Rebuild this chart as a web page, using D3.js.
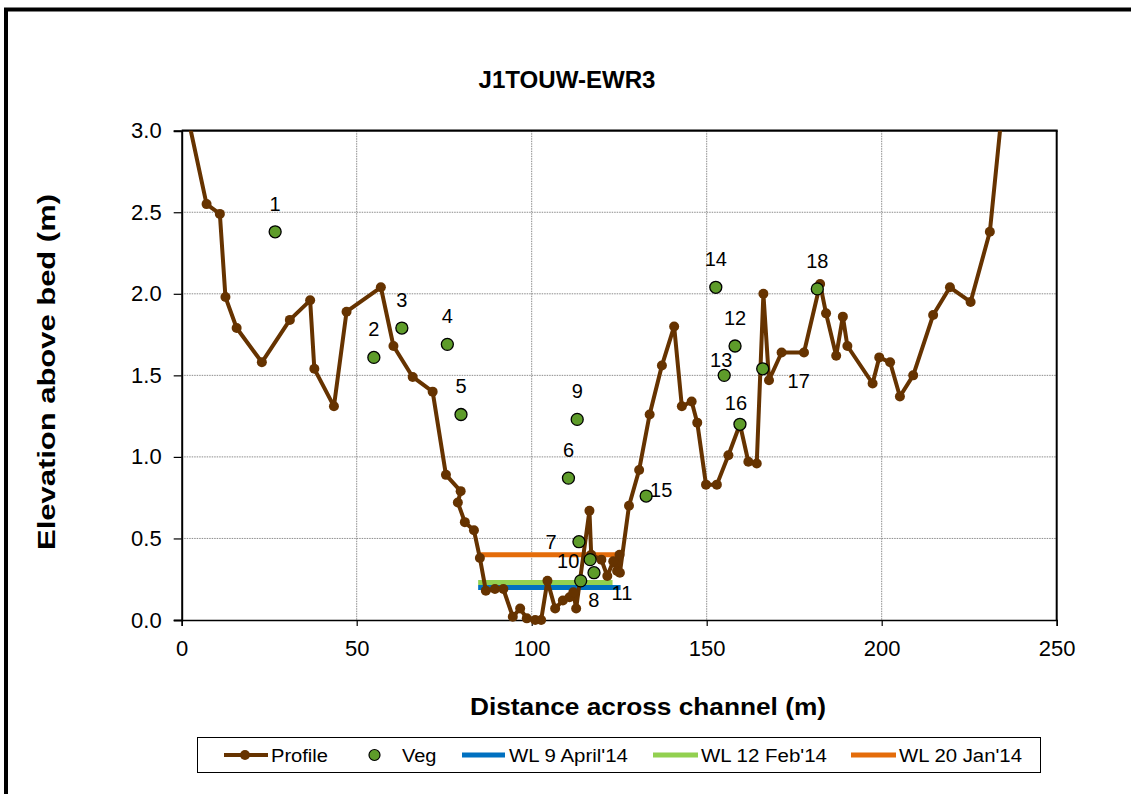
<!DOCTYPE html>
<html>
<head>
<meta charset="utf-8">
<script src="https://d3js.org/d3.v7.min.js"></script>
<style>
  html, body { margin: 0; padding: 0; background: #fff; }
  svg { display: block; font-family: "Liberation Sans", Arial, sans-serif; }
</style>
</head>
<body>
<svg id="chart" width="1131" height="794"></svg>
<script>
// ---------------- data ----------------
const chartTitle = "J1TOUW-EWR3";
const xAxisTitle = "Distance across channel (m)";
const yAxisTitle = "Elevation above bed (m)";

const xTicks = [0, 50, 100, 150, 200, 250];
const yTicks = [0.0, 0.5, 1.0, 1.5, 2.0, 2.5, 3.0];

const profileX = [0, 7.1, 10.9, 12.5, 15.7, 22.9, 30.9, 36.7, 37.9, 43.5, 47.1, 56.9, 60.5, 66.0, 71.7,
  75.5, 79.7, 78.9, 80.9, 83.5, 85.2, 86.9, 89.5, 91.9, 94.6, 96.7, 98.6, 101.0, 102.7, 104.5,
  106.7, 108.9, 110.8, 111.9, 112.7, 116.5, 117.0, 119.9, 121.6, 123.3, 124.4, 125.1, 125.2,
  127.8, 130.7, 133.7, 137.2, 140.7, 142.9, 145.7, 147.3, 149.8, 152.9, 156.2, 159.5, 161.9,
  164.3, 166.2, 167.8, 171.4, 177.8, 182.4, 184.1, 187.0, 188.9, 190.2, 197.4, 199.3, 202.4,
  205.2, 209.0, 214.7, 219.5, 225.4, 230.9, 236.0];
const profileY = [3.26, 2.55, 2.49, 1.98, 1.79, 1.58, 1.84, 1.96, 1.54, 1.31, 1.89, 2.04, 1.68, 1.49, 1.40,
  0.89, 0.79, 0.72, 0.60, 0.55, 0.38, 0.18, 0.19, 0.19, 0.02, 0.07, 0.01, 0.00, 0.00, 0.24,
  0.07, 0.12, 0.14, 0.17, 0.07, 0.67, 0.40, 0.37, 0.27, 0.36, 0.30, 0.40, 0.29,
  0.70, 0.92, 1.26, 1.56, 1.80, 1.31, 1.34, 1.21, 0.83, 0.83, 1.01, 1.20, 0.97,
  0.96, 2.00, 1.47, 1.64, 1.64, 2.06, 1.88, 1.62, 1.86, 1.68, 1.45, 1.61, 1.58,
  1.37, 1.50, 1.87, 2.04, 1.95, 2.38, 3.47];

const vegLabels = ["1","2","3","4","5","6","7","8","9","10","11","12","13","14","15","16","17","18"];
const vegX = [26.7, 54.9, 62.9, 75.9, 79.8, 110.5, 113.5, 114.0, 113.0, 116.7, 117.8, 158.1, 155.0, 152.6, 132.7, 159.5, 166.0, 181.6];
const vegY = [2.38, 1.61, 1.79, 1.69, 1.26, 0.87, 0.48, 0.24, 1.23, 0.37, 0.29, 1.68, 1.50, 2.04, 0.76, 1.20, 1.54, 2.03];

const wlNames = ["WL 9 April'14", "WL 12 Feb'14", "WL 20 Jan'14"];
const wlStartX = [84.7, 84.7, 84.7];
const wlEndX = [125.4, 123.1, 125.4];
const wlLevel = [0.20, 0.23, 0.40];

// ---------------- styles ----------------
const colProfile = "#663300";
const colVeg = "#5e9c2a";
const wlColors = ["#0070C0", "#92D050", "#E46C0A"];

// label placement offsets (px) relative to the marker, for readability
const labelOffset = {
  "7": [-28, 7], "8": [13, 26], "10": [-22, 8], "11": [28, 27],
  "13": [-3, -8], "15": [15, 1], "16": [-4, -14], "17": [36, 19]
};
const defaultOffset = [0, -21];

// ---------------- layout ----------------
const svg = d3.select("#chart");
const L = 181.7, R = 1056.7, T = 130.7, B = 620;

const x = d3.scaleLinear().domain([0, 250]).range([L, R]);
const y = d3.scaleLinear().domain([0, 3]).range([B, T]);

// outer frame
svg.append("rect").attr("x", 6).attr("y", 9.5).attr("width", 1200).attr("height", 900)
  .attr("fill", "none").attr("stroke", "#000").attr("stroke-width", 4);

// title
svg.append("text").attr("x", 567).attr("y", 88).attr("text-anchor", "middle")
  .attr("font-size", 23).attr("font-weight", "bold")
  .attr("textLength", 177).attr("lengthAdjust", "spacingAndGlyphs")
  .text(chartTitle);

// gridlines
const grid = svg.append("g");
grid.selectAll("line.h").data(yTicks.filter(v => v > 0 && v < 3)).join("line")
  .attr("x1", L).attr("x2", R).attr("y1", d => y(d)).attr("y2", d => y(d))
  .attr("stroke", "#8c8c8c").attr("stroke-width", 1).attr("stroke-dasharray", "1.5,1");
grid.selectAll("line.v").data(xTicks.filter(v => v > 0 && v < 250)).join("line")
  .attr("y1", T).attr("y2", B).attr("x1", d => x(d)).attr("x2", d => x(d))
  .attr("stroke", "#8c8c8c").attr("stroke-width", 1).attr("stroke-dasharray", "1.5,1");

// axes
const yAxis = d3.axisLeft(y).tickValues(yTicks).tickFormat(d3.format(".1f")).tickSize(8).tickPadding(12);
const gy = svg.append("g").attr("transform", `translate(${L},0)`).call(yAxis);
gy.select(".domain").attr("stroke", "#000").attr("stroke-width", 2);
gy.selectAll(".tick line").attr("stroke", "#000").attr("stroke-width", 1.2);
gy.selectAll(".tick text").attr("font-size", 22).attr("fill", "#000")
  .attr("font-family", "Liberation Sans, Arial, sans-serif");

const xAxis = d3.axisBottom(x).tickValues(xTicks).tickFormat(d3.format("d")).tickSize(6).tickPadding(14);
const gx = svg.append("g").attr("transform", `translate(0,${B})`).call(xAxis);
gx.select(".domain").attr("stroke", "#000").attr("stroke-width", 1.5);
gx.selectAll(".tick line").attr("stroke", "#000").attr("stroke-width", 1.2);
gx.selectAll(".tick text").attr("font-size", 22).attr("fill", "#000")
  .attr("font-family", "Liberation Sans, Arial, sans-serif");

// top and right frame of plot
svg.append("line").attr("x1", L).attr("x2", R + 1).attr("y1", T).attr("y2", T)
  .attr("stroke", "#000").attr("stroke-width", 2.2);
svg.append("line").attr("x1", R).attr("x2", R).attr("y1", T).attr("y2", B)
  .attr("stroke", "#000").attr("stroke-width", 2);

// axis titles
svg.append("text").attr("x", 648).attr("y", 715).attr("text-anchor", "middle")
  .attr("font-size", 23).attr("font-weight", "bold")
  .attr("textLength", 356).attr("lengthAdjust", "spacingAndGlyphs")
  .text(xAxisTitle);
svg.append("text").attr("transform", "translate(55,372) rotate(-90)").attr("text-anchor", "middle")
  .attr("font-size", 24).attr("font-weight", "bold")
  .attr("textLength", 356).attr("lengthAdjust", "spacingAndGlyphs")
  .text(yAxisTitle);

// clip
svg.append("clipPath").attr("id", "clip").append("rect")
  .attr("x", L - 10).attr("y", T).attr("width", R - L + 20).attr("height", B - T + 20);
const plot = svg.append("g").attr("clip-path", "url(#clip)");

// water levels
wlNames.forEach((n, i) => {
  plot.append("line")
    .attr("x1", x(wlStartX[i])).attr("x2", x(wlEndX[i]))
    .attr("y1", y(wlLevel[i])).attr("y2", y(wlLevel[i]))
    .attr("stroke", wlColors[i]).attr("stroke-width", 5);
});

// profile
const profile = profileX.map((v, i) => [v, profileY[i]]);
plot.append("path").datum(profile)
  .attr("d", d3.line().x(d => x(d[0])).y(d => y(d[1])))
  .attr("fill", "none").attr("stroke", colProfile).attr("stroke-width", 4)
  .attr("stroke-linejoin", "round");
plot.selectAll("circle.p").data(profile).join("circle")
  .attr("cx", d => x(d[0])).attr("cy", d => y(d[1])).attr("r", 5).attr("fill", colProfile);

// veg
const veg = vegX.map((v, i) => ({ x: v, y: vegY[i], label: vegLabels[i] }));
plot.selectAll("circle.v").data(veg).join("circle")
  .attr("cx", d => x(d.x)).attr("cy", d => y(d.y)).attr("r", 6)
  .attr("fill", colVeg).attr("stroke", "#000").attr("stroke-width", 1.3);
svg.append("g").selectAll("text").data(veg).join("text")
  .attr("x", d => x(d.x) + (labelOffset[d.label] || defaultOffset)[0])
  .attr("y", d => y(d.y) + (labelOffset[d.label] || defaultOffset)[1])
  .attr("text-anchor", "middle").attr("font-size", 20).attr("fill", "#000")
  .text(d => d.label);

// legend
const lg = svg.append("g");
lg.append("rect").attr("x", 197.5).attr("y", 737.5).attr("width", 843).attr("height", 35)
  .attr("fill", "#fff").attr("stroke", "#000").attr("stroke-width", 1);
const ly = 755, lby = 761.5;
// Profile
lg.append("line").attr("x1", 224).attr("x2", 268).attr("y1", ly).attr("y2", ly)
  .attr("stroke", colProfile).attr("stroke-width", 4);
lg.append("circle").attr("cx", 245).attr("cy", ly).attr("r", 5).attr("fill", colProfile);
lg.append("text").attr("x", 271).attr("y", lby).attr("font-size", 18)
  .attr("textLength", 57).attr("lengthAdjust", "spacingAndGlyphs").text("Profile");
// Veg
lg.append("circle").attr("cx", 374.5).attr("cy", ly).attr("r", 5.5)
  .attr("fill", colVeg).attr("stroke", "#000").attr("stroke-width", 1.2);
lg.append("text").attr("x", 402).attr("y", lby).attr("font-size", 18)
  .attr("textLength", 34.5).attr("lengthAdjust", "spacingAndGlyphs").text("Veg");
// WL
const wlLeg = [[462, 505, 509, 119], [653, 698, 701, 126], [851, 896, 899, 123]];
wlNames.forEach((n, i) => {
  const [a, b, tx, tw] = wlLeg[i];
  lg.append("line").attr("x1", a).attr("x2", b).attr("y1", ly).attr("y2", ly)
    .attr("stroke", wlColors[i]).attr("stroke-width", 5);
  lg.append("text").attr("x", tx).attr("y", lby).attr("font-size", 18)
    .attr("textLength", tw).attr("lengthAdjust", "spacingAndGlyphs").text(n);
});
</script>
</body>
</html>
